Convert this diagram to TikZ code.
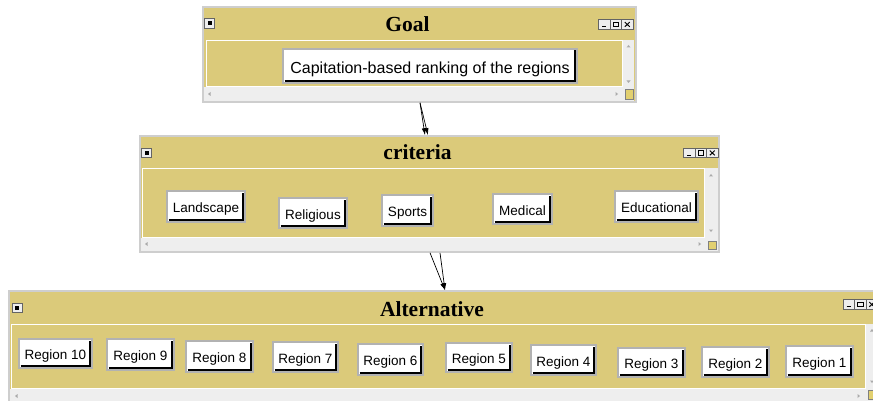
\documentclass[tikz,border=0pt]{standalone}
\usepackage{fontspec}
\setmainfont{Liberation Serif}
\newfontfamily\uisans{Liberation Sans}
\usetikzlibrary{arrows.meta}

\definecolor{wintan}{RGB}{219,202,122}
\definecolor{winedge}{RGB}{206,206,206}
\definecolor{scrollbg}{RGB}{238,238,238}
\definecolor{btnedge}{RGB}{178,178,178}
\definecolor{ctlgray}{RGB}{100,100,100}
\definecolor{glyphgray}{RGB}{170,170,170}
\definecolor{cornerfill}{RGB}{226,208,112}

\tikzset{
  win/.style={draw=winedge, line width=1.6pt, fill=wintan, inner sep=0pt},
  panel/.style={fill=wintan, draw=white, line width=1pt},
  scrollbar/.style={fill=scrollbg},
  cornerbox/.style={fill=cornerfill, draw=gray, line width=0.6pt},
  wintitle/.style={font=\fontsize{21.5}{24}\selectfont\bfseries, inner sep=0pt, anchor=base},
  btn/.style={draw=btnedge, line width=2pt, fill=white, inner sep=0pt,
    font=\uisans\fontsize{13.5}{15}\selectfont, text height=12.7pt, text depth=0pt,
    path picture={\draw[black, line width=2.2pt]
      ([xshift=1.5pt,yshift=2.1pt]path picture bounding box.south west) --
      ([xshift=-2.1pt,yshift=2.1pt]path picture bounding box.south east) --
      ([xshift=-2.1pt,yshift=-1.5pt]path picture bounding box.north east);}},
  bigbtn/.style={btn, font=\uisans\fontsize{16}{18}\selectfont, text height=15.5pt},
  link/.style={draw=black, line width=0.7pt, -{Latex[length=7pt,width=4.5pt]}},
  ctlbox/.style={draw=ctlgray, fill=scrollbg, line width=0.8pt},
  % minimise / maximise / close buttons of a window
  winctls/.pic={
    \draw[ctlbox] (0,0) rectangle (11.5,9.5);
    \draw[ctlbox] (11.5,0) rectangle (23,9.5);
    \draw[ctlbox] (23,0) rectangle (34.5,9.5);
    \draw[line width=1.3pt] (3.5,7.2) -- (7.5,7.2);
    \draw[line width=0.9pt] (14.5,2.5) rectangle (20,7.3);
    \draw[line width=0.9pt] (26.3,2.5) -- (31.2,7.3) (26.3,7.3) -- (31.2,2.5);
  },
  % system menu icon
  winicon/.pic={
    \draw[ctlbox] (0,0) rectangle (10,9.5);
    \fill[black] (3,2.8) rectangle (7,6.8);
  },
  arrowup/.pic={\fill[glyphgray] (-2,1.5) -- (0,-1) -- (2,1.5) -- cycle;},
  arrowdown/.pic={\fill[glyphgray] (-2,-1.5) -- (0,1) -- (2,-1.5) -- cycle;},
  arrowleft/.pic={\fill[glyphgray] (1.5,-2) -- (-1,0) -- (1.5,2) -- cycle;},
  arrowright/.pic={\fill[glyphgray] (-1.5,-2) -- (1,0) -- (-1.5,2) -- cycle;},
}

\begin{document}
\begin{tikzpicture}[x=1pt, y=-1pt]
\useasboundingbox (0,0) rectangle (873,401);
\clip (0,0) rectangle (873,401);

% ---------- Goal window ----------
\node[win, minimum width=433pt, minimum height=95pt] (goalwin) at (419.5,54.5) {};
\draw[panel] (206,40.5) rectangle (622,87);
\fill[scrollbar] (622.7,40) rectangle (634.3,87.5);
\fill[scrollbar] (204,87.5) rectangle (634.3,101);
\draw[cornerbox] (625,89.5) rectangle (633,99);
\pic at (628.5,46) {arrowup};
\pic at (628.5,82) {arrowdown};
\pic at (209,94) {arrowleft};
\pic at (617,94) {arrowright};
\pic at (204.5,18.5) {winicon};
\pic at (598.5,19.5) {winctls};
\node[wintitle] (goaltitle) at (407.5,32) {Goal};
\node[bigbtn, minimum width=294pt, minimum height=34pt] (goal) at (430,66)
  {Capitation-based ranking of the regions};

% ---------- criteria window ----------
\node[win, minimum width=579pt, minimum height=116pt] (critwin) at (429.5,194) {};
\draw[panel] (142,169) rectangle (704.5,237);
\fill[scrollbar] (705.2,168.5) rectangle (718.2,237.5);
\fill[scrollbar] (141,237.5) rectangle (718.2,251.2);
\draw[cornerbox] (708,241) rectangle (716,249.5);
\pic at (711,175) {arrowup};
\pic at (711,231) {arrowdown};
\pic at (146,244) {arrowleft};
\pic at (700,244) {arrowright};
\pic at (141.5,148) {winicon};
\pic at (683.5,148) {winctls};
\node[wintitle] (crittitle) at (417.5,160) {criteria};
\node[btn, minimum width=78pt, minimum height=31pt] (landscape) at (206,206.5) {Landscape};
\node[btn, minimum width=68pt, minimum height=30pt] (religious) at (313,213) {Religious};
\node[btn, minimum width=51pt, minimum height=31pt] (sports) at (407.5,210.5) {Sports};
\node[btn, minimum width=59pt, minimum height=30pt] (medical) at (522.5,209) {Medical};
\node[btn, minimum width=83pt, minimum height=31pt] (educational) at (656.5,206.5) {Educational};

% ---------- Alternative window ----------
\node[win, minimum width=871pt, minimum height=115pt] (altwin) at (444.5,348.5) {};
\draw[panel] (11,324) rectangle (865,388);
\fill[scrollbar] (865.7,323.5) rectangle (879,388.5);
\fill[scrollbar] (10,388.5) rectangle (879,405);
\draw[cornerbox] (868,390) rectangle (876,399);
\pic at (872,330) {arrowup};
\pic at (872,382) {arrowdown};
\pic at (16,396) {arrowleft};
\pic at (859,396) {arrowright};
\pic at (12,303) {winicon};
\pic at (843,299.5) {winctls};
\node[wintitle] (alttitle) at (432,316) {Alternative};
\node[btn, minimum width=73pt, minimum height=29pt] (r10) at (55.5,353.5) {Region 10};
\node[btn, minimum width=67pt, minimum height=31pt] (r9) at (140.5,354.5) {Region 9};
\node[btn, minimum width=67pt, minimum height=31pt] (r8) at (219.5,356.5) {Region 8};
\node[btn, minimum width=65pt, minimum height=30pt] (r7) at (305.5,357) {Region 7};
\node[btn, minimum width=65pt, minimum height=31pt] (r6) at (390.5,359.5) {Region 6};
\node[btn, minimum width=66pt, minimum height=29pt] (r5) at (479,357.5) {Region 5};
\node[btn, minimum width=65pt, minimum height=30pt] (r4) at (563.5,360) {Region 4};
\node[btn, minimum width=67pt, minimum height=29pt] (r3) at (651.5,362.5) {Region 3};
\node[btn, minimum width=67pt, minimum height=30pt] (r2) at (735.5,362) {Region 2};
\node[btn, minimum width=67pt, minimum height=31pt] (r1) at (819.5,361.5) {Region 1};

% ---------- connectors between the levels ----------
\draw[link] ([xshift=0.5pt]goalwin.south) -- ([xshift=-1.5pt]critwin.north);
\draw[link] ([xshift=0.5pt]goalwin.south) -- ([xshift=-4.5pt]critwin.north);
\draw[link] ([xshift=0.5pt]critwin.south) -- ([xshift=0.5pt]altwin.north);
\draw[link] ([xshift=10.5pt]critwin.south) -- ([xshift=0.5pt]altwin.north);
\end{tikzpicture}
\end{document}
